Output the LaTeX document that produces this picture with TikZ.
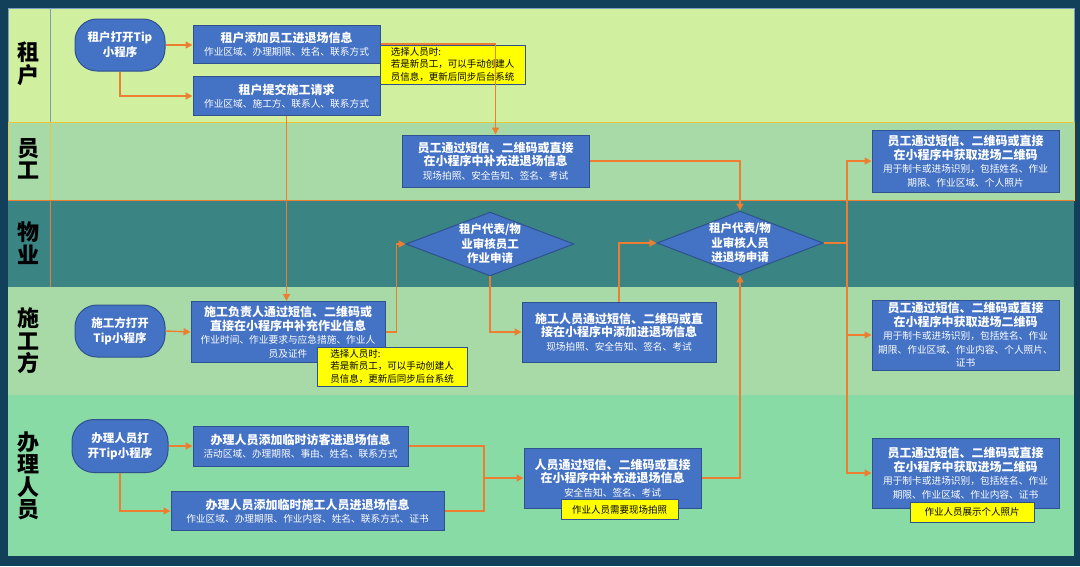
\documentclass[tikz,border=0pt]{standalone}
\usepackage{fontspec}
\setmainfont{Noto Sans CJK SC}
\usepackage{tikz}
\usetikzlibrary{arrows.meta,shapes.geometric}
\definecolor{fond}{HTML}{123F59}
\definecolor{voieA}{HTML}{D0F0A0}
\definecolor{voieB}{HTML}{A8DAA8}
\definecolor{voieC}{HTML}{3A8484}
\definecolor{voieD}{HTML}{88DBA4}
\definecolor{bleu}{HTML}{4472C4}
\definecolor{bord}{HTML}{2F528F}
\definecolor{orangef}{HTML}{ED7D31}
\definecolor{jaune}{HTML}{FFFF00}
\definecolor{trait}{HTML}{E6C73E}
\definecolor{grisbleu}{HTML}{7A9CC0}
\newcommand{\tit}{\fontsize{12}{13.5}\selectfont\bfseries}

\begin{document}
\begin{tikzpicture}[x=1pt,y=-1pt,
  proc/.style={draw=bord,line width=1pt,fill=bleu,text=white,inner sep=0pt,align=center,font=\fontsize{9.7}{13.5}\selectfont},
  sz/.style 2 args={minimum width=#1pt,minimum height=#2pt},
  start/.style={proc,rounded corners=22pt,font=\fontsize{11.5}{15}\selectfont\bfseries},
  check/.style={proc,diamond,aspect=2.6,font=\fontsize{11.5}{14.5}\selectfont\bfseries},
  memo/.style={draw=bord,line width=0.8pt,fill=jaune,inner sep=0pt,align=left,font=\fontsize{9.5}{12.5}\selectfont},
  fl/.style={draw=orangef,line width=1.4pt,-{Triangle[length=7pt,width=7pt]}},
  lane/.style={font=\fontsize{22}{22.5}\selectfont\bfseries,align=center}]
  \useasboundingbox (0,0) rectangle (1080,566);
  \fill[fond] (0,0) rectangle (1080,566);
  % swimlanes
  \foreach \ya/\yb/\c in {8/122/voieA,122/200/voieB,200/287/voieC,287/395/voieB,395/556/voieD}
    \fill[\c] (8,\ya) rectangle (1074,\yb);
  \draw[grisbleu,line width=0.6pt] (8,8) rectangle (1074,122) (50,8) -- (50,122);
  \draw[trait,line width=1pt] (8,122) rectangle (1074,200) (50,122) -- (50,200);
  \draw[orangef,line width=0.8pt] (8,200) -- (1074,200) (50,200) -- (50,287);
  \foreach \i/\y/\t in {1/64/租\\户,2/159/员\\工,3/243/物\\业,4/341/施\\工\\方,5/476/办\\理\\人\\员}
    \node[lane] (lab\i) at (28,\y) {\t};

  % 租户
  \node[start,sz={90}{52}] (topen) at (120,45) {租户打开Tip\\小程序};
  \node[proc,sz={187}{38}] (tadd) at (286.5,44) {\tit 租户添加员工进退场信息\\作业区域、办理期限、姓名、联系方式};
  \node[proc,sz={187}{39}] (treq) at (286.5,96) {\tit 租户提交施工请求\\作业区域、施工方、联系人、联系方式};
  \node[memo,sz={145}{39}] (tnote) at (452.5,64.5) {选择人员时:\\若是新员工，可以手动创建人\\员信息，更新后同步后台系统};

  % 员工
  \node[proc,sz={187}{52}] (efill) at (495.5,161) {\tit 员工通过短信、二维码或直接\\\tit 在小程序中补充进退场信息\\现场拍照、安全告知、签名、考试};
  \node[proc,sz={187}{62}] (eqr) at (965.5,161) {\tit 员工通过短信、二维码或直接\\\tit 在小程序中获取进场二维码\\用于制卡或进场识别，包括姓名、作业\\期限、作业区域、个人照片};

  % 物业
  \node[check,sz={168}{63}] (d1) at (490,244) {租户代表/物\\业审核员工\\作业申请};
  \node[check,sz={166}{63}] (d2) at (740,243) {租户代表/物\\业审核人员\\进退场申请};

  % 施工方
  \node[start,sz={90}{52}] (sopen) at (120,331) {施工方打开\\Tip小程序};
  \node[proc,sz={194}{61}] (sfill) at (288,332) {\tit 施工负责人通过短信、二维码或\\\tit 直接在小程序中补充作业信息\\作业时间、作业要求与应急措施、作业人\\员及证件};
  \node[memo,sz={150}{39}] (snote) at (392,366.5) {选择人员时:\\若是新员工，可以手动创建人\\员信息，更新后同步后台系统};
  \node[proc,sz={194}{60}] (sadd) at (619,332) {\tit 施工人员通过短信、二维码或直\\\tit 接在小程序中添加进退场信息\\现场拍照、安全告知、签名、考试};
  \node[proc,sz={187}{70}] (sqr) at (965.5,335) {\tit 员工通过短信、二维码或直接\\\tit 在小程序中获取进场二维码\\用于制卡或进场识别，包括姓名、作业\\期限、作业区域、作业内容、个人照片、\\证书};

  % 办理人员
  \node[start,sz={96}{53}] (hopen) at (120,446) {办理人员打\\开Tip小程序};
  \node[proc,sz={215}{40}] (hvisit) at (300.5,446) {\tit 办理人员添加临时访客进退场信息\\活动区域、办理期限、事由、姓名、联系方式};
  \node[proc,sz={273}{39}] (hwork) at (307.5,511) {\tit 办理人员添加临时施工人员进退场信息\\作业区域、办理期限、作业内容、姓名、联系方式、证书};
  \node[proc,sz={177}{60}] (hfill) at (612.5,478) {\tit 人员通过短信、二维码或直接\\\tit 在小程序中补充进退场信息\\安全告知、签名、考试};
  \node[memo,sz={117}{20},align=center] (hnote) at (619.5,509.5) {作业人员需要现场拍照};
  \node[proc,sz={187}{70}] (hqr) at (965.5,473) {\tit 员工通过短信、二维码或直接\\\tit 在小程序中获取进场二维码\\用于制卡或进场识别，包括姓名、作业\\期限、作业区域、作业内容、证书};
  \node[memo,sz={124}{20},align=center] (hnote2) at (972,512) {作业人员展示个人照片};

  % connectors
  \coordinate (hj) at (484,478);
  \coordinate (rj) at (847,243);
  \draw[fl] (topen.east) -- (topen.east -| tadd.west);
  \draw[fl] (topen.south) |- (treq.west);
  \draw[fl] (tadd.east) -| (efill.north);
  \draw[fl] (treq.south) -- (treq.south |- sfill.north);
  \draw[fl] (efill.east) -| (d2.north);
  \draw[fl] (sopen.east) -- (sfill.west);
  \draw[fl] (sfill.east) -- ++(11,0) |- (d1.west);
  \draw[fl] (d1.south) |- (sadd.west);
  \draw[fl] (sadd.north) |- (d2.west);
  \draw[fl] (hopen.east) -- (hopen.east -| hvisit.west);
  \draw[fl] (hopen.south) |- (hwork.west);
  \draw[fl,-] (hvisit.east) -| (hj);
  \draw[fl,-] (hwork.east) -| (hj);
  \draw[fl] (hj) -- (hfill.west);
  \draw[fl] (hfill.east) -| (d2.south);
  \draw[fl,-] (d2.east) -- (rj);
  \foreach \n in {eqr,sqr,hqr} \draw[fl] (rj) |- (\n.west);
\end{tikzpicture}
\end{document}
